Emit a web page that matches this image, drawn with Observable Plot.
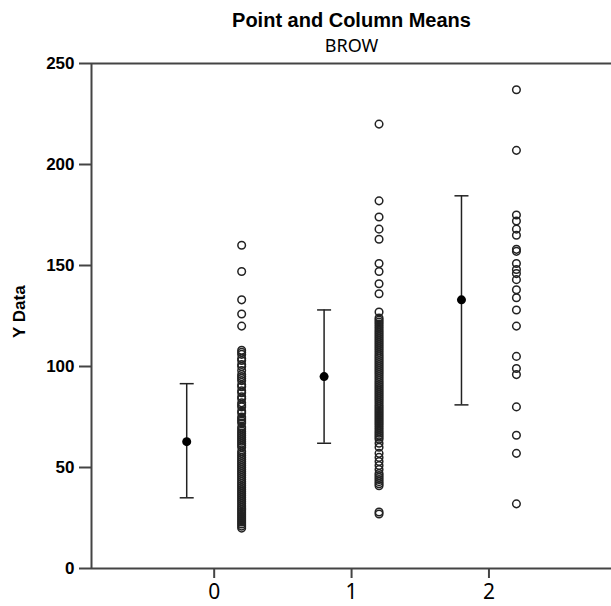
<!DOCTYPE html>
<html>
<head>
<meta charset="utf-8">
<script src="https://cdn.jsdelivr.net/npm/d3@7"></script>
<script src="https://cdn.jsdelivr.net/npm/@observablehq/plot@0.6"></script>
<style>
  html, body { margin: 0; padding: 0; background: #fff; }
  #chart svg { display: block; }
</style>
</head>
<body>
<div id="chart"></div>
<script>
// Categories (BROW groups)
const categories = [0, 1, 2];

// Column means with error bars
const means = [62.8, 95.0, 133.0];
const lows  = [35.0, 62.0, 81.0];
const highs = [91.5, 128.0, 184.5];

// Individual points per category
const points0 = [160, 147, 133, 126, 120, 108, 107, 106, 104, 103, 101, 100, 98, 96, 95, 94, 93, 91, 90, 88,
  87, 85, 84, 82, 81, 80, 78, 77, 75, 74, 73, 72, 70, 69, 68, 67, 66, 65, 64, 63, 62, 61, 60, 58, 57,
  56, 55, 54, 53, 52, 51, 50, 49, 48, 47, 46, 45, 44, 43, 42, 41, 40, 39, 38, 37, 36, 35, 34, 33, 32,
  31, 30, 29, 28, 27, 26, 25, 24, 23, 22, 21, 20];
const points1 = [220, 182, 174, 168, 163, 151, 147, 141, 136, 127, 124, 123, 122, 121, 120, 119, 118, 117,
  116, 115, 114, 113, 112, 111, 110, 109, 108, 107, 106, 105, 104, 103, 102, 101, 100, 99, 98, 97, 96,
  95, 94, 93, 92, 91, 90, 89, 88, 87, 86, 85, 84, 83, 82, 81, 80, 79, 78, 77, 76, 75, 74, 73, 72, 71,
  70, 69, 68, 67, 66, 65, 64, 62, 60, 57, 55, 53, 51, 49, 47, 46, 45, 44, 43, 42, 41, 28, 27];
const points2 = [237, 207, 175, 172, 168, 165, 158, 157, 151, 148, 146, 143, 138, 134, 128, 120, 105, 99,
  96, 80, 66, 57, 32];

// Axis ticks
const yTicks = [0, 50, 100, 150, 200, 250];
const xTicks = [0, 1, 2];

const title = "Point and Column Means";
const subtitle = "BROW";
const yLabel = "Y Data";

// Build tables
const meanRows = categories.map((c, i) => ({cat: c, mean: means[i], low: lows[i], high: highs[i]}));
const pointRows = [
  ...points0.map(v => ({cat: 0, y: v})),
  ...points1.map(v => ({cat: 1, y: v})),
  ...points2.map(v => ({cat: 2, y: v}))
];

const offset = 0.2;
const capSymbol = {
  draw(context, size) {
    const r = 7;
    context.moveTo(-r, 0);
    context.lineTo(r, 0);
  }
};

const chart = Plot.plot({
  width: 611,
  height: 606,
  marginLeft: 91,
  marginRight: 0,
  marginTop: 63,
  marginBottom: 38,
  style: {fontFamily: "'Liberation Sans', Arial, sans-serif", color: "#000", background: "#fff"},
  x: {domain: [-0.893, 2.892]},
  y: {domain: [0, 250]},
  marks: [
    // frame lines
    Plot.ruleY([0, 250], {stroke: "#444", strokeWidth: 2}),
    Plot.ruleX([-0.893], {stroke: "#444", strokeWidth: 2}),
    // axes
    Plot.axisY(yTicks, {tickSize: 12, tickPadding: 5, fontSize: 17, fontWeight: "bold", stroke: "#444", strokeWidth: 2, label: null}),
    Plot.axisX(xTicks, {tickSize: 10, tickPadding: 6, fontSize: 21, tickFormat: d3.format("d"), fontFamily: "'Noto Sans', 'Open Sans', sans-serif", stroke: "#444", strokeWidth: 2, label: null}),
    // points
    Plot.dot(pointRows, {x: d => d.cat + offset, y: "y", r: 3.8, stroke: "#222", strokeWidth: 1.5, fill: "none"}),
    // error bars
    Plot.ruleX(meanRows, {x: d => d.cat - offset, y1: "low", y2: "high", stroke: "#222", strokeWidth: 1.5}),
    Plot.dot(meanRows, {x: d => d.cat - offset, y: "low", symbol: capSymbol, stroke: "#222", strokeWidth: 1.5}),
    Plot.dot(meanRows, {x: d => d.cat - offset, y: "high", symbol: capSymbol, stroke: "#222", strokeWidth: 1.5}),
    Plot.dot(meanRows, {x: d => d.cat - offset, y: "mean", r: 4.5, fill: "#000", stroke: "none"}),
    // titles
    Plot.text([title], {frameAnchor: "top", dy: -43, lineAnchor: "middle", fontSize: 20, fontWeight: "bold", fill: "#000"}),
    Plot.text([subtitle], {frameAnchor: "top", dy: -17, lineAnchor: "middle", fontSize: 18, fontFamily: "'Noto Sans', 'Open Sans', sans-serif", fill: "#000"}),
    Plot.text([yLabel], {frameAnchor: "left", dx: -72, dy: 22, rotate: -90, lineAnchor: "middle", fontSize: 17, fontWeight: "bold", fill: "#000"})
  ]
});

document.getElementById("chart").appendChild(chart);
</script>
</body>
</html>
